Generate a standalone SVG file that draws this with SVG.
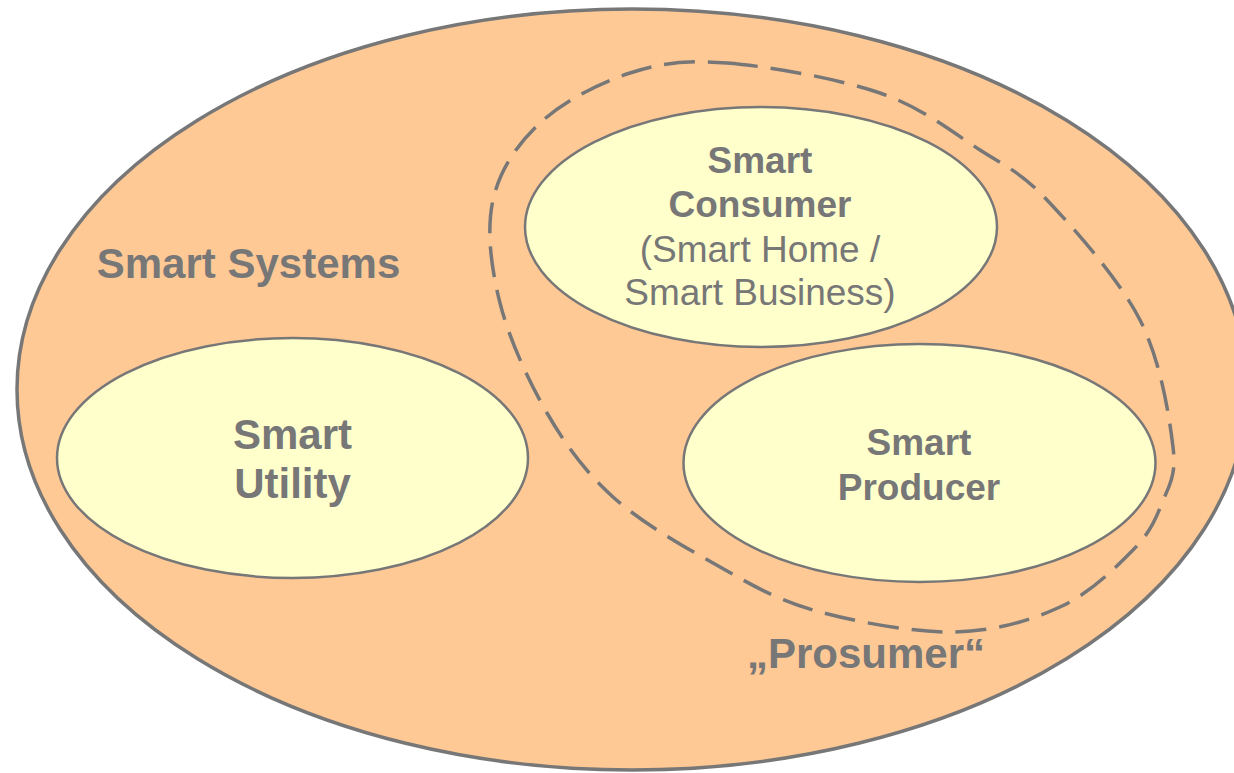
<svg xmlns="http://www.w3.org/2000/svg" width="1234" height="773" viewBox="0 0 1234 773">
<style>
.outer{fill:#FFC996;stroke:#777777;stroke-width:3.5}
.node{fill:#FFFFCC;stroke:#777777;stroke-width:2.5}
.dash{fill:none;stroke:#777777;stroke-width:3.5;stroke-dasharray:31 13}
text{font-family:"Liberation Sans",Arial,sans-serif;fill:#777777;text-anchor:middle}
.b{font-weight:bold}
</style>
<rect width="1234" height="773" fill="#FFFFFF"/>
<g id="smart-systems">
<ellipse class="outer" cx="632" cy="389.5" rx="615" ry="380.5"/>
<text class="b" x="248.5" y="278" font-size="42">Smart Systems</text>
</g>
<g id="prosumer">
<path class="dash" d="M727,63 C768.7,66.3 837.8,78.5 880,93 C922.2,107.5 952.2,132.2 980,150 C1007.8,167.8 1020.3,171.7 1047,200 C1073.7,228.3 1119,278.8 1140,320 C1161,361.2 1169.3,416.5 1173,447 C1176.7,477.5 1168.7,485.8 1162,503 C1155.3,520.2 1150,532.7 1133,550 C1116,567.3 1090,593.3 1060,607 C1030,620.7 994.2,631.5 953,632 C911.8,632.5 853,621.5 813,610 C773,598.5 746.3,581.8 713,563 C679.7,544.2 640.7,522 613,497 C585.3,472 565.8,445.3 547,413 C528.2,380.7 509,338.5 500,303 C491,267.5 486.3,230 493,200 C499.7,170 517.2,144.2 540,123 C562.8,101.8 598.8,83 630,73 C661.2,63 685.3,59.7 727,63 Z"/>
<text class="b" x="866" y="668" font-size="42">„Prosumer“</text>
</g>
<g id="smart-consumer">
<ellipse class="node" cx="761" cy="227" rx="236" ry="120"/>
<text class="b" x="760" y="173" font-size="37">Smart</text>
<text class="b" x="760" y="217" font-size="37">Consumer</text>
<text x="760" y="262" font-size="37">(Smart Home /</text>
<text x="760" y="305" font-size="37">Smart Business)</text>
</g>
<g id="smart-utility">
<ellipse class="node" cx="292.5" cy="458" rx="235.5" ry="120"/>
<text class="b" x="292.5" y="449" font-size="42">Smart</text>
<text class="b" x="292.5" y="498" font-size="42">Utility</text>
</g>
<g id="smart-producer">
<ellipse class="node" cx="919.5" cy="463" rx="236" ry="119"/>
<text class="b" x="919" y="455" font-size="37">Smart</text>
<text class="b" x="919" y="500" font-size="37">Producer</text>
</g>
<g id="connectors"></g>
</svg>
